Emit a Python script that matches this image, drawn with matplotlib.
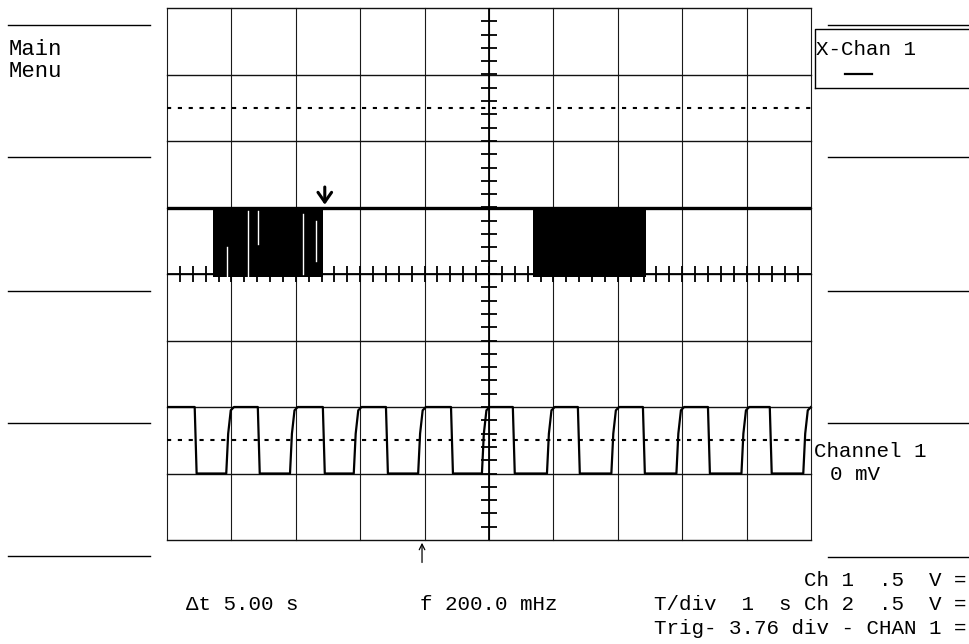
import numpy as np
import matplotlib
matplotlib.use("Agg")
import matplotlib.pyplot as plt
from matplotlib.lines import Line2D

# screen is 10 x 8 divisions, time in s (1 s/div), levels in divisions
n_xdiv, n_ydiv = 10, 8

# channel 1 square wave: edge times (s) and levels (div)
ch1_fall = [0.43, 1.41, 2.42, 3.40, 4.41, 5.37, 6.38, 7.39, 8.40, 9.36]
ch1_rise = [0.92, 1.91, 2.90, 3.90, 4.89, 5.90, 6.90, 7.91, 8.92, 9.88]
ch1_high, ch1_low = 2.0, 1.0
ch1_marker = 1.5

# channel 2 trace: baseline with two noise bursts
ch2_level = 5.0
ch2_burst_floor = 3.95
ch2_bursts = [(0.71, 2.42), (5.68, 7.44)]
ch2_gaps = [(0.93, 3.95, 4.4), (1.26, 3.95, 4.95), (1.41, 4.45, 4.95),
            (2.11, 4.0, 4.9), (2.31, 4.2, 4.8)]
ch2_marker = 6.5

cursor_top = 2.45     # down arrow on ch2
cursor_bottom = 3.96  # up arrow under screen

W, H = 969, 644
fig = plt.figure(figsize=(W / 100, H / 100), dpi=100)
fig.patch.set_facecolor("white")

ax_l, ax_r, ax_t, ax_b = 167, 811, 8, 540
ax = fig.add_axes([ax_l / W, 1 - ax_b / H, (ax_r - ax_l) / W, (ax_b - ax_t) / H])
ax.set_xlim(0, n_xdiv)
ax.set_ylim(0, n_ydiv)
ax.set_axis_off()

# graticule
for i in range(n_xdiv + 1):
    ax.axvline(i, color="#1a1a1a", lw=0.8, clip_on=False, zorder=1)
for j in range(n_ydiv + 1):
    ax.axhline(j, color="#111111", lw=1.0, clip_on=False, zorder=1)

# center axes with minor ticks
cx, cy = n_xdiv / 2, n_ydiv / 2
ax.axvline(cx, color="black", lw=1.3, zorder=2)
ax.axhline(cy, color="black", lw=1.3, zorder=2)
yt = np.arange(0.2, n_ydiv, 0.2)
xt = np.arange(0.2, n_xdiv, 0.2)
ax.plot(np.full_like(yt, cx), yt, ls="none", marker="_", ms=11, mew=1.3, color="black", zorder=2)
ax.plot(xt, np.full_like(xt, cy), ls="none", marker="|", ms=11, mew=1.3, color="black", zorder=2)

# reference markers (dashed)
for lvl in (ch2_marker, ch1_marker):
    ax.axhline(lvl, color="black", lw=1.5, ls=(0, (2, 3.2)), zorder=2)

# channel 1 square wave
xs, ys = [0.0], [ch1_high]
for f, r in zip(ch1_fall, ch1_rise):
    xs += [f, f + 0.03, r, r + 0.03, r + 0.07, r + 0.12]
    ys += [ch1_high, ch1_low, ch1_low, ch1_low + 0.6, ch1_high - 0.05, ch1_high]
xs.append(n_xdiv)
ys.append(ch1_high)
ax.plot(xs, ys, color="black", lw=1.6, zorder=4)

# channel 2 trace
ax.plot([0, n_xdiv], [ch2_level, ch2_level], color="black", lw=2.4, zorder=4)
for a, b in ch2_bursts:
    ax.fill_between([a, b], ch2_burst_floor, ch2_level, color="black", lw=0, zorder=4)
for gx, g0, g1 in ch2_gaps:
    ax.plot([gx, gx], [g0, g1], color="white", lw=1.0, zorder=5)

# cursor arrows
ax.annotate("", xy=(cursor_top, ch2_level), xytext=(cursor_top, ch2_level + 0.35),
            arrowprops=dict(arrowstyle="->,head_length=0.5,head_width=0.35",
                            color="black", lw=2.2, mutation_scale=14),
            zorder=6)
ax.annotate("", xy=(cursor_bottom, 0), xytext=(cursor_bottom, -0.38),
            arrowprops=dict(arrowstyle="->", color="black", lw=0.9, mutation_scale=10),
            annotation_clip=False, zorder=6)

# side softkey separators
def hline(x0, x1, y, lw=1.0):
    fig.add_artist(Line2D([x0 / W, x1 / W], [1 - y / H, 1 - y / H], color="black", lw=lw))

for y in (25, 157, 291, 423, 556):
    hline(8, 150, y)
for y in (25, 157, 291, 423, 557):
    hline(828, 969, y)

# X-Chan box
fig.add_artist(Line2D([815 / W, 815 / W, W / W], [1 - 88 / H, 1 - 29 / H, 1 - 29 / H],
                      color="black", lw=1.0))
hline(815, 969, 88)
hline(845, 872, 74, lw=1.6)

font = "Liberation Mono"
def label(x, y, s, size=15, ha="left"):
    fig.text(x / W, 1 - y / H, s, fontsize=size, family=font, ha=ha, va="baseline",
             color="black")

label(9, 55, "Main", 16)
label(9, 77, "Menu", 16)
label(816, 55, "X-Chan 1", 15)
label(814, 457, "Channel 1", 15)
label(830, 480, "0 mV", 15)
label(186, 610, "\u0394t 5.00 s", 15)
label(420, 610, "f 200.0 mHz", 15)
label(966, 586, "Ch 1  .5  V =", 15, ha="right")
label(966, 610, "T/div  1  s Ch 2  .5  V =", 15, ha="right")
label(966, 634, "Trig- 3.76 div - CHAN 1 =", 15, ha="right")

fig.savefig("out.png", dpi=100, facecolor="white")
